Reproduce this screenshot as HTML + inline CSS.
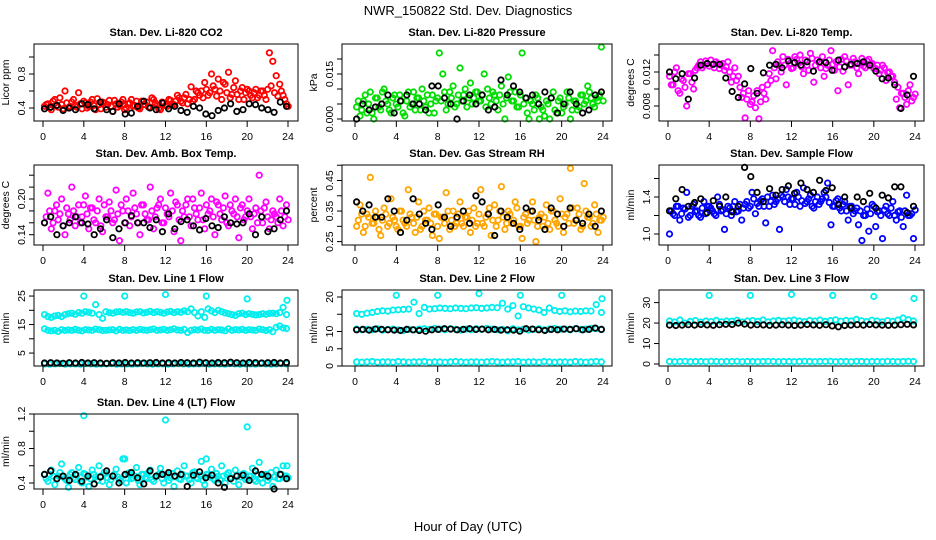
<!DOCTYPE html>
<html><head><meta charset="utf-8"><title>NWR_150822 Std. Dev. Diagnostics</title>
<style>
html,body{margin:0;padding:0;background:#fff;}
svg{display:block;font-family:"Liberation Sans",Arial,sans-serif;}
.pt{font-weight:bold;font-size:11px;}
.tk{font-size:10.5px;}
</style></head>
<body>
<svg id="chart" width="936" height="540" viewBox="0 0 936 540">
<rect width="936" height="540" fill="#fff"/>
<text x="468" y="15" text-anchor="middle" font-size="13">NWR_150822 Std. Dev. Diagnostics</text>
<text x="468" y="531" text-anchor="middle" font-size="13">Hour of Day (UTC)</text>
</svg>
<script>
// ---------- data ----------
const xTicks = [0,4,8,12,16,20,24];
const co2Red = [0.42,0.45,0.38,0.5,0.41,0.44,0.6,0.4,0.47,0.43,0.58,0.39,0.46,0.42,0.5,0.38,0.44,0.47,0.41,0.49,0.36,0.45,0.43,0.5,0.4,0.46,0.42,0.48,0.39,0.44,0.47,0.41,0.5,0.43,0.38,0.46,0.42,0.49,0.44,0.55,0.48,0.52,0.45,0.65,0.5,0.58,0.6,0.7,0.55,0.8,0.62,0.74,0.5,0.68,0.82,0.56,0.72,0.5,0.64,0.58,0.6,0.52,0.62,0.55,0.6,0.5,1.05,0.95,0.78,0.68,0.55,0.45];
const co2RedB = [0.44,0.4,0.48,0.43,0.52,0.39,0.46,0.42,0.5,0.41,0.45,0.48,0.4,0.47,0.43,0.51,0.39,0.46,0.44,0.42,0.49,0.41,0.47,0.38,0.45,0.5,0.43,0.4,0.48,0.44,0.41,0.52,0.46,0.39,0.47,0.43,0.5,0.45,0.48,0.52,0.46,0.56,0.5,0.48,0.6,0.55,0.52,0.62,0.58,0.66,0.54,0.6,0.7,0.58,0.52,0.64,0.56,0.6,0.5,0.62,0.55,0.58,0.52,0.6,0.55,0.62,0.66,0.58,0.54,0.6,0.5,0.42];
const co2Black = [0.39,0.41,0.43,0.37,0.4,0.38,0.45,0.44,0.39,0.47,0.38,0.36,0.45,0.33,0.34,0.42,0.48,0.4,0.38,0.46,0.39,0.42,0.37,0.35,0.42,0.4,0.33,0.31,0.37,0.4,0.45,0.36,0.38,0.45,0.44,0.4,0.38,0.35,0.47,0.42];
const presGreen = [0.004,0.001,0.006,0.002,0.009,0.0,0.007,0.003,0.01,0.005,0.002,0.008,0.004,0.006,0.001,0.009,0.005,0.003,0.007,0.01,0.004,0.002,0.008,0.006,0.022,0.015,0.003,0.009,0.011,0.005,0.017,0.008,0.004,0.012,0.007,0.009,0.006,0.015,0.01,0.005,0.008,0.003,0.011,0.0,0.014,0.006,0.009,0.004,0.022,0.007,0.0,0.005,0.008,0.0,0.003,0.006,0.0,0.009,0.002,0.007,0.004,0.009,0.0,0.006,0.003,0.008,0.005,0.011,0.007,0.004,0.006,0.024];
const presGreenB = [0.006,0.003,0.008,0.005,0.002,0.007,0.004,0.009,0.006,0.003,0.007,0.005,0.008,0.002,0.006,0.004,0.009,0.007,0.003,0.006,0.008,0.005,0.002,0.007,0.006,0.009,0.005,0.007,0.004,0.008,0.006,0.01,0.007,0.005,0.009,0.006,0.008,0.004,0.007,0.009,0.006,0.008,0.005,0.007,0.009,0.006,0.004,0.008,0.005,0.002,0.006,0.003,0.007,0.004,0.001,0.005,0.007,0.003,0.006,0.002,0.005,0.007,0.003,0.006,0.004,0.008,0.006,0.009,0.005,0.007,0.008,0.006];
const presBlack = [0.0,0.005,0.003,0.004,0.005,0.008,0.002,0.006,0.008,0.005,0.005,0.003,0.011,0.011,0.007,0.005,0.0,0.006,0.008,0.005,0.008,0.003,0.004,0.013,0.008,0.011,0.009,0.007,0.008,0.005,0.009,0.007,0.002,0.005,0.009,0.005,0.002,0.003,0.008,0.009];
const tempMag = [0.0115,0.0105,0.0125,0.0095,0.011,0.008,0.0118,0.01,0.0125,0.0132,0.0128,0.013,0.0134,0.0125,0.013,0.0128,0.0122,0.0132,0.0108,0.0125,0.0115,0.009,0.0066,0.0098,0.0085,0.0078,0.0065,0.0102,0.0088,0.0118,0.0145,0.0112,0.0128,0.0138,0.0105,0.013,0.0125,0.0135,0.014,0.0118,0.0128,0.0142,0.0108,0.0134,0.0125,0.0115,0.0128,0.0145,0.0122,0.0098,0.0135,0.0138,0.0105,0.0128,0.0132,0.0118,0.0136,0.0125,0.0135,0.013,0.0124,0.0118,0.0128,0.011,0.012,0.0115,0.0088,0.0078,0.0095,0.0082,0.0105,0.009];
const tempMagB = [0.0105,0.012,0.0098,0.0112,0.0102,0.0118,0.0108,0.0122,0.0128,0.0125,0.0133,0.0127,0.0129,0.0132,0.0124,0.013,0.0126,0.012,0.0115,0.011,0.0102,0.0095,0.0088,0.0082,0.0092,0.0098,0.0085,0.0095,0.0105,0.011,0.0125,0.0132,0.012,0.0128,0.0135,0.0124,0.0138,0.013,0.0126,0.0134,0.0122,0.0136,0.0128,0.0131,0.0138,0.0124,0.0134,0.0129,0.0132,0.0126,0.0121,0.0133,0.0128,0.0136,0.0125,0.013,0.0127,0.0133,0.0129,0.0124,0.0128,0.0122,0.0125,0.0119,0.0115,0.0108,0.0102,0.0095,0.009,0.0098,0.0086,0.0094];
const tempBlack = [0.012,0.0112,0.0118,0.0088,0.0113,0.0128,0.013,0.0129,0.0129,0.0113,0.0097,0.009,0.0106,0.0124,0.0095,0.0119,0.0128,0.0129,0.0125,0.0133,0.0131,0.0128,0.0132,0.0121,0.0132,0.0131,0.0122,0.0134,0.0126,0.0129,0.013,0.0132,0.0128,0.0121,0.0112,0.0113,0.0105,0.0077,0.0093,0.0115];
const boxMag = [0.16,0.21,0.15,0.18,0.165,0.2,0.14,0.175,0.22,0.155,0.19,0.17,0.205,0.15,0.185,0.16,0.2,0.145,0.17,0.195,0.16,0.215,0.13,0.18,0.2,0.155,0.21,0.175,0.14,0.19,0.165,0.22,0.15,0.185,0.2,0.16,0.175,0.21,0.145,0.19,0.13,0.17,0.2,0.155,0.185,0.165,0.21,0.15,0.175,0.2,0.14,0.19,0.165,0.205,0.155,0.18,0.2,0.135,0.19,0.17,0.2,0.15,0.185,0.24,0.16,0.195,0.15,0.18,0.17,0.2,0.155,0.19];
const boxMagB = [0.17,0.18,0.16,0.19,0.175,0.155,0.185,0.165,0.18,0.17,0.16,0.19,0.175,0.185,0.165,0.18,0.155,0.19,0.17,0.18,0.165,0.175,0.19,0.16,0.18,0.17,0.185,0.16,0.19,0.175,0.165,0.18,0.17,0.19,0.16,0.185,0.17,0.18,0.195,0.165,0.18,0.19,0.17,0.2,0.175,0.185,0.165,0.19,0.18,0.17,0.195,0.175,0.185,0.16,0.19,0.175,0.17,0.185,0.165,0.18,0.17,0.175,0.16,0.18,0.185,0.17,0.165,0.175,0.16,0.18,0.17,0.165];
const boxBlack = [0.16,0.17,0.14,0.155,0.16,0.17,0.16,0.158,0.14,0.15,0.165,0.135,0.15,0.16,0.172,0.16,0.16,0.152,0.165,0.145,0.175,0.15,0.162,0.165,0.155,0.148,0.167,0.155,0.152,0.17,0.16,0.158,0.16,0.175,0.14,0.17,0.145,0.15,0.165,0.18];
const rhOrange = [0.3,0.37,0.28,0.34,0.46,0.31,0.33,0.27,0.36,0.3,0.39,0.32,0.29,0.35,0.31,0.42,0.33,0.28,0.38,0.3,0.32,0.36,0.27,0.34,0.26,0.33,0.41,0.29,0.35,0.31,0.38,0.3,0.33,0.28,0.36,0.31,0.42,0.3,0.34,0.27,0.37,0.32,0.43,0.29,0.35,0.31,0.38,0.3,0.26,0.34,0.32,0.38,0.25,0.33,0.3,0.37,0.29,0.35,0.31,0.39,0.28,0.34,0.49,0.31,0.36,0.29,0.44,0.33,0.3,0.37,0.28,0.32];
const rhOrangeB = [0.32,0.34,0.3,0.33,0.31,0.35,0.29,0.32,0.34,0.31,0.33,0.3,0.35,0.32,0.3,0.34,0.31,0.33,0.29,0.35,0.32,0.31,0.34,0.3,0.33,0.31,0.35,0.32,0.3,0.34,0.31,0.33,0.35,0.32,0.3,0.34,0.31,0.33,0.36,0.32,0.3,0.35,0.33,0.31,0.34,0.32,0.36,0.3,0.33,0.31,0.35,0.32,0.3,0.34,0.33,0.31,0.35,0.32,0.3,0.34,0.33,0.31,0.36,0.32,0.34,0.3,0.35,0.33,0.31,0.34,0.32,0.33];
const rhBlack = [0.38,0.35,0.37,0.33,0.33,0.39,0.35,0.28,0.32,0.39,0.34,0.31,0.29,0.37,0.33,0.3,0.33,0.35,0.31,0.4,0.38,0.34,0.27,0.35,0.33,0.31,0.29,0.36,0.35,0.32,0.29,0.36,0.34,0.3,0.36,0.32,0.31,0.34,0.3,0.35];
const flowBlue = [1.0,1.22,1.3,1.15,1.28,1.45,1.2,1.32,1.25,1.18,1.35,1.3,1.28,1.22,1.4,1.25,1.05,1.3,1.2,1.35,1.25,1.15,1.32,1.28,1.45,1.22,1.3,1.38,1.12,1.3,1.42,1.35,1.05,1.4,1.48,1.32,1.38,1.45,1.3,1.5,1.35,1.42,1.28,1.4,1.35,1.45,1.55,1.1,1.3,1.38,1.25,1.35,1.15,1.3,1.25,1.1,0.93,1.2,1.03,1.32,1.08,1.25,0.95,1.3,1.2,1.35,1.15,1.25,1.08,1.42,1.2,0.95];
const flowBlueB = [1.25,1.2,1.3,1.22,1.27,1.18,1.3,1.24,1.2,1.28,1.22,1.3,1.25,1.2,1.32,1.26,1.22,1.28,1.3,1.24,1.32,1.28,1.35,1.3,1.38,1.33,1.36,1.3,1.4,1.35,1.32,1.38,1.42,1.35,1.4,1.38,1.32,1.4,1.36,1.33,1.38,1.3,1.35,1.32,1.38,1.4,1.34,1.3,1.36,1.28,1.32,1.25,1.3,1.22,1.28,1.25,1.2,1.27,1.22,1.3,1.24,1.2,1.26,1.22,1.28,1.2,1.24,1.18,1.25,1.2,1.22,1.26];
const flowBlack = [1.25,1.38,1.48,1.3,1.34,1.38,1.23,1.36,1.3,1.4,1.24,1.3,1.72,1.62,1.45,1.35,1.49,1.42,1.48,1.52,1.44,1.55,1.48,1.45,1.58,1.47,1.5,1.32,1.4,1.28,1.4,1.35,1.44,1.28,1.42,1.39,1.51,1.51,1.23,1.3];
const spikeHours = [4,8,12,16,20,23.9];
const l1Upper = [18.5,17.8,17.5,18,18.2,17.8,18.5,18.8,19,18.6,19.2,19,19.5,19.3,19,22,18.5,17.2,19.5,19.2,19,19.4,19.5,19.3,19.5,19.2,19,19.4,19.5,19.1,19.3,19.6,19.2,19.5,19.3,19,19.4,19.6,19.2,19.5,19.3,19.8,19.5,20.5,19.2,18,19.5,17.5,20.5,19.8,19.2,20,19.5,19.1,18.8,18.5,18.2,18.8,19,18.5,18.8,18.6,18.4,18.5,18.8,18.6,18.9,19,18.8,19.2,21,18.5];
const l1Mid = [13.5,13,12.8,13,12.6,13.2,12.9,13.1,13,13.3,13,12.8,13.2,13.1,13,13.4,13.2,12.9,13,13.1,13.2,12.8,13.3,13,13.1,12.9,13.2,13,13.3,13.1,13,13.2,13.4,13,13.1,13.3,13,13.2,13.5,13.1,13,13.3,12.2,13,13.2,13.1,13.4,13,12.9,13.3,13,13.2,13.1,12.8,13.5,13,13.2,13.1,13.3,13,13.2,13.1,13,13.4,13.2,12.9,13.2,12.5,14,14.5,13.8,13.6];
const l1Spikes = [25,25,25.5,25,24,23.5];
const l1Black = [1.5,1.6,1.5,1.4,1.6,1.5,1.7,1.5,1.6,1.5,1.4,1.6,1.5,1.7,1.5,1.6,1.5,1.6,1.7,1.5,1.6,1.5,1.7,1.6,1.5,1.8,1.6,1.5,1.7,1.6,1.8,1.6,1.5,1.7,1.6,1.5,1.6,1.7,1.5,1.7];
const l2Upper = [15.2,15,15.3,15.5,15.8,16,15.9,16.2,16.3,16.4,16.5,18.5,15.2,17,16.5,16.6,16.8,16.7,16.6,16.8,16.7,16.6,16.8,16.9,16.7,16.8,17,16.9,18.2,16.5,17.5,14.5,17.2,16.8,16.5,16.2,15.5,16.8,16.1,15.8,16,15.7,15.9,15.8,16,15.9,17.8,15.5];
const l2Mid = [10.7,10.5,10.6,10.5,10.8,10.4,10.6,10.7,10.5,10.3,10.6,10.5,10.7,10.8,10.6,10.9,10.7,10.5,10.8,10.6,10.4,10.7,10.5,10.8,10.6,10.9,10.7,10.5,10.6,10.2,10.8,10.5,10.7,10.4,10.6,10.8,10.5,10.7,10.9,10.6,10.7,10.5,10.8,10.6,10.7,10.9,10.8,10.6];
const l2Spikes = [20.5,20.5,21,20.5,20.5,19.5];
const l2Black = [10.5,10.6,10.4,10.7,10.6,10.5,10.4,10.3,10.6,10.5,10.3,10.1,10.5,10.6,10.8,10.7,10.5,10.6,10.8,10.6,10.7,10.5,10.6,10.4,10.5,10.4,10.1,10.8,10.7,10.5,10.3,10.6,10.5,10.7,10.6,10.8,10.5,10.6,11,10.6];
const l3Upper = [21,20.5,21.5,20,20.8,21.2,20.5,21,20.7,21.3,20.6,21,20.9,21.4,20.5,21,21.2,20.8,21.5,20.6,21,21.3,20.9,21.2,21.5,21,20.7,21.3,21,21.5,20.8,21.2,21.6,20.9,21.3,21,21.8,21.1,20.7,21.4,21,20.6,21.2,20.8,21.5,22.5,21.7,21];
const l3Spikes = [33.5,33.5,34,33.5,33,32];
const l3Black = [19,18.8,19,19.2,19,19.3,19.1,18.9,19.2,19.4,19.3,20,19.5,19,19.2,19.1,18.9,19,19.2,19,18.8,19,19.3,19.1,18.9,19.2,18.6,18.2,18.8,19,19.2,19,19.3,19.1,19,18.9,19,19.2,19.4,19.1];
const lowCyan = [1.2,1.1,1.2,1.3,1.1,1.2,1.2,1.1,1.3,1.2,1.1,1.2,1.2,1.3,1.1,1.2,1.2,1.1,1.2,1.3,1.2,1.1,1.2,1.2,1.1,1.2,1.3,1.2,1.1,1.2,1.2,1.3,1.1,1.2,1.2,1.1,1.3,1.2,1.1,1.2,1.2,1.1,1.3,1.2,1.1,1.2,1.3,1.2];
const l4Cyan = [0.5,0.42,0.55,0.38,0.48,0.62,0.45,0.35,0.52,0.44,0.58,0.4,0.5,0.36,0.55,0.47,0.6,0.42,0.51,0.38,0.48,0.56,0.44,0.68,0.4,0.52,0.46,0.58,0.38,0.5,0.45,0.55,0.42,0.48,0.57,0.4,0.5,0.46,0.36,0.54,0.44,0.6,0.48,0.4,0.53,0.45,0.65,0.38,0.5,0.56,0.43,0.48,0.6,0.4,0.52,0.46,0.55,0.38,0.5,0.44,0.48,0.57,0.42,0.64,0.4,0.5,0.46,0.36,0.55,0.45,0.6,0.48];
const l4CyanB = [0.45,0.5,0.48,0.44,0.52,0.47,0.43,0.5,0.46,0.49,0.42,0.51,0.47,0.45,0.5,0.43,0.48,0.52,0.46,0.44,0.5,0.47,0.42,0.49,0.51,0.45,0.48,0.43,0.5,0.46,0.52,0.44,0.47,0.5,0.45,0.49,0.43,0.51,0.47,0.45,0.5,0.48,0.44,0.52,0.46,0.49,0.43,0.5,0.47,0.45,0.51,0.44,0.48,0.5,0.46,0.42,0.49,0.47,0.51,0.45,0.48,0.44,0.5,0.46,0.49,0.43,0.52,0.47,0.45,0.5,0.48,0.46];
const l4Spikes = [1.18,0.68,1.13,0.68,1.05,0.6];
const l4Black = [0.5,0.54,0.45,0.48,0.43,0.5,0.42,0.48,0.39,0.47,0.54,0.48,0.4,0.5,0.52,0.46,0.39,0.54,0.48,0.5,0.52,0.48,0.5,0.36,0.49,0.53,0.46,0.49,0.4,0.35,0.45,0.48,0.49,0.43,0.54,0.5,0.48,0.33,0.5,0.45];

// ---------- layout ----------
const cols = [{l:34,r:298,x0:43,x1:288},{l:342,r:612,x0:355,x1:603},{l:659,r:924,x0:668,x1:915}];
const rows = [{t:44,b:121},{t:165,b:245},{t:290,b:366},{t:414,b:489}];

const panels = [
 {name:'co2',title:'Stan. Dev. Li-820 CO2',ylab:'Licor ppm',c:0,r:0,ym:[0.4,108,0.8,74],ticks:[0.4,0.6,0.8,1.0],labels:['0.4','','0.8',''],
  series:[{d:co2Red,col:'#ff0000'},{d:co2RedB,col:'#ff0000',off:1},{d:co2Black,col:'#000'}]},
 {name:'pressure',title:'Stan. Dev. Li-820 Pressure',ylab:'kPa',c:1,r:0,ym:[0,119,0.015,74],ticks:[0,0.005,0.01,0.015,0.02],labels:['0.000','','','0.015',''],
  series:[{d:presGreen,col:'#00dd00'},{d:presGreenB,col:'#00dd00',off:1},{d:presBlack,col:'#000'}]},
 {name:'li820-temp',title:'Stan. Dev. Li-820 Temp.',ylab:'degrees C',c:2,r:0,ym:[0.008,106,0.012,72],ticks:[0.008,0.010,0.012,0.014],labels:['0.008','','0.012',''],
  series:[{d:tempMag,col:'#ff00ff'},{d:tempMagB,col:'#ff00ff',off:1},{d:tempBlack,col:'#000'}]},
 {name:'box-temp',title:'Stan. Dev. Amb. Box Temp.',ylab:'degrees C',c:0,r:1,ym:[0.14,234.7,0.20,199],ticks:[0.14,0.16,0.18,0.20,0.22,0.24],labels:['0.14','','','0.20','',''],
  series:[{d:boxMag,col:'#ff00ff'},{d:boxMagB,col:'#ff00ff',off:1},{d:boxBlack,col:'#000'}]},
 {name:'gas-rh',title:'Stan. Dev. Gas Stream RH',ylab:'percent',c:1,r:1,ym:[0.25,241.6,0.45,180.5],ticks:[0.25,0.30,0.35,0.40,0.45,0.50],labels:['0.25','','0.35','','0.45',''],
  series:[{d:rhOrange,col:'#ffa500'},{d:rhOrangeB,col:'#ffa500',off:1},{d:rhBlack,col:'#000'}]},
 {name:'sample-flow',title:'Stan. Dev. Sample Flow',ylab:'ml/min',c:2,r:1,ym:[1.0,234,1.4,197],ticks:[1.0,1.2,1.4,1.6],labels:['1.0','','1.4',''],
  series:[{d:flowBlue,col:'#0000ff'},{d:flowBlueB,col:'#0000ff',off:1},{d:flowBlack,col:'#000'}]},
 {name:'line1-flow',title:'Stan. Dev. Line 1 Flow',ylab:'ml/min',c:0,r:2,ym:[0,367.3,20,310.3],ticks:[5,10,15,20,25],labels:['5','','15','','25'],
  series:[{d:l1Upper,col:'#00eeee'},{d:l1Mid,col:'#00eeee'},{d:lowCyan,col:'#00eeee'},{d:l1Spikes,h:spikeHours,col:'#00eeee'},{d:l1Black,col:'#000'}]},
 {name:'line2-flow',title:'Stan. Dev. Line 2 Flow',ylab:'ml/min',c:1,r:2,ym:[0,366,20,297],ticks:[0,5,10,15,20],labels:['0','5','10','','20'],
  series:[{d:l2Upper,col:'#00eeee'},{d:l2Mid,col:'#00eeee'},{d:lowCyan,col:'#00eeee'},{d:l2Spikes,h:spikeHours,col:'#00eeee'},{d:l2Black,col:'#000'}]},
 {name:'line3-flow',title:'Stan. Dev. Line 3 Flow',ylab:'ml/min',c:2,r:2,ym:[0,364,30,302.6],ticks:[0,10,20,30],labels:['0','10','20','30'],
  series:[{d:l3Upper,col:'#00eeee'},{d:lowCyan,col:'#00eeee'},{d:l3Spikes,h:spikeHours,col:'#00eeee'},{d:l3Black,col:'#000'}]},
 {name:'line4-flow',title:'Stan. Dev. Line 4 (LT) Flow',ylab:'ml/min',c:0,r:3,ym:[0.4,483,1.2,414],ticks:[0.4,0.6,0.8,1.0,1.2],labels:['0.4','','0.8','','1.2'],
  series:[{d:l4Cyan,col:'#00eeee'},{d:l4CyanB,col:'#00eeee',off:1},{d:l4Spikes,h:spikeHours,col:'#00eeee'},{d:l4Black,col:'#000'}]}
];

const NS='http://www.w3.org/2000/svg';
const svg=document.getElementById('chart');
function mk(tag,attrs,parent){const e=document.createElementNS(NS,tag);for(const k in attrs)e.setAttribute(k,attrs[k]);parent.appendChild(e);return e;}

panels.forEach(p=>{
  const C=cols[p.c],R=rows[p.r];
  const xS=h=>C.x0+(C.x1-C.x0)*h/24;
  const yS=v=>p.ym[1]+(v-p.ym[0])*(p.ym[3]-p.ym[1])/(p.ym[2]-p.ym[0]);
  const g=mk('g',{},svg);
  
  
  const cx=(C.l+C.r)/2;
  const tt=mk('text',{x:cx,y:R.t-8,'text-anchor':'middle','class':'pt'},g);
  tt.textContent=p.title;
  
  
  const pg=mk('g',{fill:'none','stroke-width':1.8},g);
  
  
  p.series.forEach(s=>{
    const n=s.d.length;
    const step=23.7/(n-1);
    s.d.forEach((v,i)=>{
      const h=s.h?s.h[i]:(0.15+step*i+(s.off?step/2:0));
      const c=mk('circle',{cx:xS(h).toFixed(1),cy:yS(v).toFixed(1),r:2.7,stroke:s.col},pg);
      
      
    });
  });
  const bx=mk('rect',{x:C.l,y:R.t,width:C.r-C.l,height:R.b-R.t,fill:'none',stroke:'#000','stroke-width':1},g);
  
  
  const xa=mk('g',{stroke:'#000','stroke-width':1},g);
  
  
  mk('line',{x1:xS(0),x2:xS(24),y1:R.b,y2:R.b},xa);
  xTicks.forEach(t=>{
    mk('line',{x1:xS(t),x2:xS(t),y1:R.b,y2:R.b+6},xa);
    const tx=mk('text',{x:xS(t),y:R.b+19,'text-anchor':'middle','class':'tk',stroke:'none',fill:'#000'},xa);
    tx.textContent=t;
    
    
  });
  const ya=mk('g',{stroke:'#000','stroke-width':1},g);
  
  
  const yt=p.ticks.map(yS);
  mk('line',{x1:C.l,x2:C.l,y1:Math.min(...yt),y2:Math.max(...yt)},ya);
  p.ticks.forEach((t,i)=>{
    const y=yS(t);
    mk('line',{x1:C.l-5,x2:C.l,y1:y,y2:y},ya);
    if(p.labels[i]){
      const tx=mk('text',{x:C.l-9,y:y,'text-anchor':'middle','class':'tk',stroke:'none',fill:'#000',transform:`rotate(-90 ${C.l-9} ${y})`},ya);
      tx.textContent=p.labels[i];
      
      
    }
  });
  const yl=(R.t+R.b)/2;
  const ylab=mk('text',{x:C.l-25,y:yl,'text-anchor':'middle','font-size':10.5,transform:`rotate(-90 ${C.l-25} ${yl})`},g);
  ylab.textContent=p.ylab;
  
  
});
</script>
</body></html>
